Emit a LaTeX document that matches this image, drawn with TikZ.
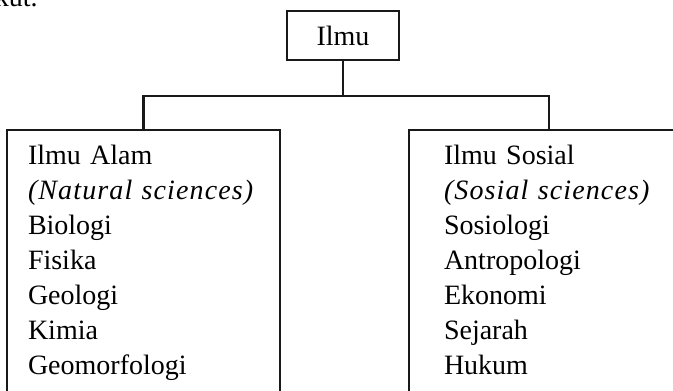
\documentclass[tikz,border=0pt]{standalone}
\usepackage{fontspec}
\setmainfont{Liberation Serif}
\usetikzlibrary{positioning}

\newcommand{\latin}[1]{{\itshape\addfontfeatures{LetterSpace=4}#1}}

\begin{document}
\begin{tikzpicture}[
  x=0.5pt,y=-0.5pt,
  line/.style={line width=1.2pt,draw=black!90},
  txt/.style={font=\fontsize{14pt}{17.5pt}\selectfont,text=black},
  root/.style={txt,rectangle,draw=black!90,line width=1.2pt,minimum width=56pt,minimum height=24.5pt,inner sep=0pt},
  branch/.style={txt,rectangle,draw=black!90,line width=1.2pt,anchor=north,align=left,text height=10pt,text depth=160pt,inner ysep=7pt},
  branchl/.style={branch,text width=115.5pt,inner xsep=10.5pt},
  branchr/.style={branch,text width=105pt,inner xsep=17.5pt}
]
\clip (0,0) rectangle (673,390);

% page text above the chart
\node[txt,anchor=base east,inner sep=0pt] (prev) at (38,7) {kut.};

% Root
\node[root] (ilmu) at (343,35.5) {Ilmu};
\coordinate (fork) at (343,96);

% Branches
\node[branchl] (alam) at (143.5,129) {Ilmu Alam\\
  \latin{(Natural sciences)}\\
  Biologi\\
  Fisika\\
  Geologi\\
  Kimia\\
  Geomorfologi};
\node[branchr] (sosial) at (549,129) {Ilmu Sosial\\
  \latin{(Sosial sciences)}\\
  Sosiologi\\
  Antropologi\\
  Ekonomi\\
  Sejarah\\
  Hukum};

% Connectors
\draw[line] (ilmu) -- (fork);
\draw[line] (alam.north) |- (fork) -| (sosial.north);

\end{tikzpicture}
\end{document}
